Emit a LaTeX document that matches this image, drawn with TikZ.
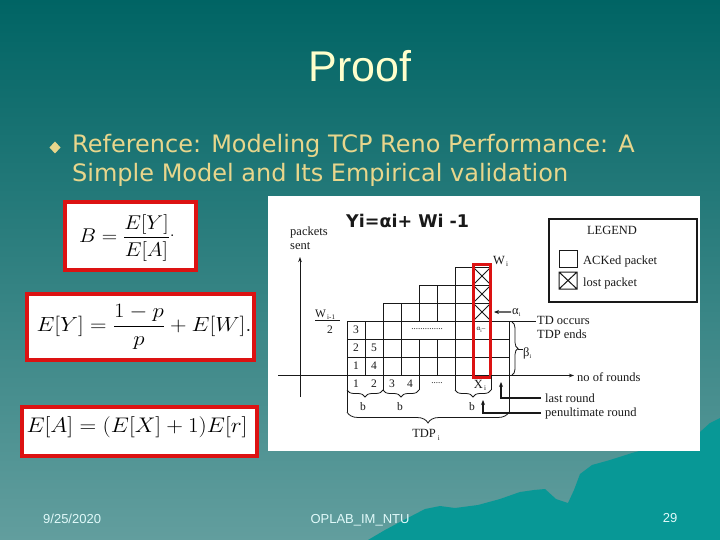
\documentclass[tikz,border=0pt]{standalone}
\usepackage{fontspec}
\usetikzlibrary{decorations.pathreplacing,arrows.meta}
\newfontfamily\arialf{Liberation Sans}
\newfontfamily\timesf{Liberation Serif}
\newfontfamily\verdf{DejaVu Sans}
\definecolor{bgtop}{RGB}{0,100,100}
\definecolor{bgbot}{RGB}{98,158,158}
\definecolor{mount}{RGB}{8,152,150}
\definecolor{titlec}{RGB}{255,255,204}
\definecolor{bulc}{RGB}{232,214,140}
\definecolor{boxred}{RGB}{220,18,18}
\definecolor{footc}{RGB}{225,250,250}
\definecolor{ink}{RGB}{25,25,25}
\begin{document}
\begin{tikzpicture}[x=1pt,y=-1pt,
  lbl/.style={inner sep=0pt, text=ink, font=\timesf\fontsize{12.5}{14}\selectfont},
  num/.style={inner sep=0pt, text=ink, font=\timesf\fontsize{11.5}{13}\selectfont},
  fbox/.style={draw=boxred, line width=4pt, fill=white},
  gridl/.style={draw=ink, line width=0.8pt},
  fml/.style={inner sep=0pt, anchor=base, font=\fontsize{24.88}{30}\selectfont},
  bul/.style={inner sep=0pt, anchor=base west, text=bulc, font=\verdf\fontsize{24}{29}\selectfont},
  foot/.style={inner sep=0pt, text=footc, font=\arialf\fontsize{13}{15}\selectfont},
  thickarrow/.style={draw=ink, line width=1.6pt, -{Stealth[length=5pt,width=4pt]}},
  thinarrow/.style={draw=ink, line width=0.9pt, -{Stealth[length=5pt,width=3.5pt]}},
  bracedeco/.style={draw=ink, line width=0.8pt, decorate, decoration={brace, amplitude=#1}}
]
\useasboundingbox (0,0) rectangle (720,540);
% background
\shade[top color=bgtop, bottom color=bgbot] (0,0) rectangle (720,540);
\fill[mount] (368,540) -- (385,530) -- (400,522) -- (425,509) -- (440,506) -- (455,508)
  -- (478,505) -- (500,499) -- (520,492) -- (534,490) -- (545,489) -- (556,499)
  -- (568,503) -- (574,490) -- (580,474) -- (592,465) -- (610,460) -- (632,453)
  -- (650,448) -- (700,432) -- (710,423) -- (720,418) -- (720,540) -- cycle;
% title and bullet
\node[inner sep=0pt, anchor=base, text=titlec, font=\arialf\fontsize{43}{50}\selectfont] (title) at (360,82) {Proof};
\fill[bulc] (55,141.5) -- (60.5,147.5) -- (55,153.5) -- (49.5,147.5) -- cycle;
\node[bul] (ref1) at (72,153) {Reference: Modeling TCP Reno Performance: A};
\node[bul] (ref2) at (72,182) {Simple Model and Its Empirical validation};
% formula boxes
\draw[fbox] (65.3,202) rectangle (195.7,269.5);
\node[fml] (f1) at (127,242.5) {\scalebox{0.86}[0.8]{$\displaystyle B=\frac{E[Y]}{E[A]}\raisebox{0.3em}{.}$}};
\draw[fbox] (27,293.7) rectangle (253.7,359.7);
\node[fml] (f2) at (144,331.5) {\scalebox{0.92}[0.82]{$\displaystyle E[Y]=\frac{1-p}{p}+E[W].$}};
\draw[fbox] (22,407) rectangle (257,456);
\node[fml] (f3) at (137,432.5) {\scalebox{0.93}[0.85]{$\displaystyle E[A]=(E[X]+1)E[r]$}};
% diagram panel
\fill[white] (268,196) rectangle (700,451);
\node[inner sep=0pt, anchor=base west, text=ink, font=\verdf\bfseries\fontsize{17.5}{20}\selectfont] (yi) at (346,228) {Yi=αi+ Wi -1};
\node[lbl, anchor=base west] (pk) at (290,236) {packets};
\node[lbl, anchor=base west] (st) at (290,249) {sent};
% axes
\coordinate (vbot) at (300,397);
\coordinate (vtop) at (300,257);
\coordinate (hleft) at (278,375.5);
\node[lbl, anchor=base west] (rounds) at (577,381) {no of rounds};
\draw[thinarrow] (vbot) -- (vtop);
\draw[thinarrow] (hleft) -- ([xshift=-3pt]rounds.west |- hleft);
% grid
\node[lbl, anchor=base west] (tdo) at (537,324.5) {TD occurs};
\node[lbl, anchor=base west] (tde) at (537,338) {TDP ends};
\draw[gridl] (347,321) -- ([xshift=-1pt]tdo.west |- 347,321);
\draw[gridl] (347,357) -- (509,357) (347,339) -- (509,339)
  (383,303) -- (491,303) (419,285) -- (491,285) (455,267) -- (491,267);
\draw[gridl] (347,321) -- (347,375) (365,321) -- (365,375) (383,303) -- (383,375)
  (401,303) -- (401,375) (419,285) -- (419,321) (419,339) -- (419,375)
  (437,285) -- (437,321) (437,339) -- (437,375) (455,267) -- (455,375)
  (473,267) -- (473,375) (491,267) -- (491,375);
\foreach \yy in {267,285,303} {
  \draw[gridl] (473,\yy) -- (491,\yy+18) (491,\yy) -- (473,\yy+18);
}
% cell numbers
\node[num] (c11) at (356,366) {1};
\node[num] (c12) at (356,348) {2};
\node[num] (c13) at (356,330) {3};
\node[num] (c21) at (374,366) {4};
\node[num] (c22) at (374,348) {5};
\node[inner sep=0pt, text=ink, font=\timesf\fontsize{9}{10}\selectfont] (dots1) at (427,329) {..............};
\node[inner sep=0pt, text=ink, font=\timesf\fontsize{7}{8}\selectfont] (ai) at (481,330) {α\raisebox{-1.5pt}{\fontsize{5}{6}\selectfont i}–};
% red rectangle
\draw[draw=boxred, line width=3.8pt] (473.5,264.5) rectangle (490.5,377.5);
% W labels
\node[lbl, anchor=base west] (wi) at (493,264) {W\raisebox{-2pt}{\fontsize{7}{8}\selectfont\,i}};
\node[inner sep=0pt, anchor=base west, text=ink, font=\timesf\fontsize{11.5}{13}\selectfont] (wim) at (315,317) {W\raisebox{-2pt}{\fontsize{7}{8}\selectfont\,i-1}};
\draw[gridl] (315,320.5) -- (340,320.5);
\node[num, anchor=base] (two) at (330,333.5) {2};
% below axis
\node[num] (b1) at (356,384) {1};
\node[num] (b2) at (374,384) {2};
\node[num] (b3) at (392,384) {3};
\node[num] (b4) at (410,384) {4};
\node[inner sep=0pt, text=ink, font=\timesf\fontsize{9}{10}\selectfont] (dots2) at (437,383) {.....};
\node[lbl, anchor=base] (xi) at (480,388.5) {X\raisebox{-2pt}{\fontsize{7}{8}\selectfont\,i}};
\draw[gridl] (347,375) -- (347,412) (383,375) -- (383,390) (419,375) -- (419,390)
  (455,375) -- (455,390) (491,375) -- (491,390);
\draw[bracedeco=7pt] (383,390) -- (347,390);
\draw[bracedeco=7pt] (419,390) -- (383,390);
\draw[bracedeco=7pt] (491,390) -- (455,390);
\node[num] (bb1) at (363,407) {b};
\node[num] (bb2) at (400,407) {b};
\node[num] (bb3) at (472,407) {b};
\draw[gridl] (509,321) -- (509,412);
\draw[bracedeco=11pt] (509,412) -- (347,412);
\node[lbl, anchor=base] (tdp) at (426,437) {TDP\raisebox{-3pt}{\fontsize{7}{8}\selectfont\;i}};
% alpha / beta
\node[lbl, anchor=base west] (alab) at (512,314) {α\raisebox{-2pt}{\fontsize{6}{7}\selectfont i}};
\coordinate (ahead) at (494,312);
\draw[thickarrow, line width=1.3pt] ([xshift=-1pt]alab.west) -- (ahead);
\draw[bracedeco=6pt] (512,322) -- (512,375);
\node[lbl, anchor=base west] (blab) at (523,356) {β\raisebox{-2pt}{\fontsize{6}{7}\selectfont i}};
\coordinate (btip) at (518,349);
\draw[gridl] (btip) -- ([xshift=-0.5pt]blab.west |- btip);
% last / penultimate round
\node[lbl, anchor=base west] (lr) at (545,402) {last round};
\node[lbl, anchor=base west] (pr) at (545,416) {penultimate round};
\coordinate (lrtip) at (501,382);
\coordinate (prtip) at (483,400);
\draw[thickarrow] ([xshift=-4pt]lr.west) -| (lrtip);
\draw[thickarrow] ([xshift=-4pt]pr.west) -| (prtip);
% legend
\draw[draw=ink, line width=1.1pt] (549,219) rectangle (697,302);
\node[lbl, anchor=base] (leg) at (612,235) {LEGEND};
\draw[draw=ink, line width=1pt] (559,250) rectangle (577,267);
\draw[draw=ink, line width=1pt] (559,272) rectangle (577,289) (559,272) -- (577,289) (577,272) -- (559,289);
\node[lbl, anchor=base west] (ack) at (583,264) {ACKed packet};
\node[lbl, anchor=base west] (lost) at (583,286.5) {lost packet};
% footer
\node[foot, anchor=base west] (date) at (43,523) {9/25/2020};
\node[foot, anchor=base] (org) at (360,523) {OPLAB\_IM\_NTU};
\node[foot, anchor=base] (pg) at (670,522) {29};
\end{tikzpicture}
\end{document}
